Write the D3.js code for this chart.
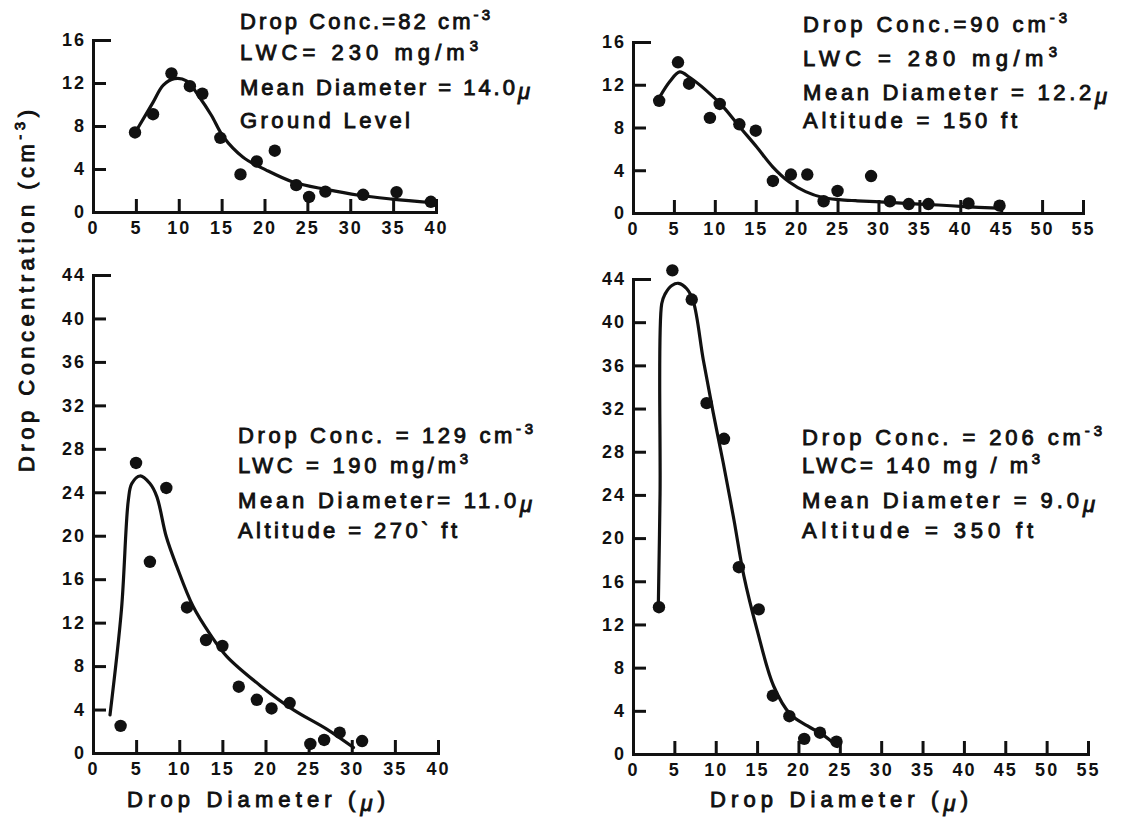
<!DOCTYPE html>
<html>
<head>
<meta charset="utf-8">
<script src="https://cdn.jsdelivr.net/npm/d3@7"></script>
<style>
  body { margin: 0; background: #fff; }
  svg { display: block; }
  text { font-family: "Liberation Sans", Arial, sans-serif; fill: #111; }
</style>
</head>
<body>
<svg id="chart" width="1142" height="823"></svg>
<script>
// ---- data ----
// panel A: ground level
const aDotX = [4.9, 7.0, 9.15, 11.3, 12.75, 14.85, 17.2, 19.1, 21.2, 23.7, 25.2, 27.1, 31.5, 35.4, 39.4];
const aDotY = [7.4, 9.1, 12.9, 11.7, 11.0, 6.9, 3.5, 4.7, 5.7, 2.5, 1.4, 1.9, 1.6, 1.85, 0.95];
const aFitX = [5.08, 7.0, 8.2, 9.5, 10.9, 12.4, 13.8, 15.2, 17.5, 20.2, 23.3, 27.2, 31.0, 34.9, 39.6];
const aFitY = [7.6, 10.2, 11.8, 12.4, 12.2, 10.7, 9.0, 7.0, 5.1, 3.9, 2.8, 2.1, 1.56, 1.2, 0.86];

// panel B: 150 ft
const bDotX = [3.2, 5.5, 6.85, 9.4, 10.6, 13.0, 15.0, 17.1, 19.3, 21.3, 23.3, 25.0, 29.1, 31.4, 33.7, 36.1, 41.0, 44.8];
const bDotY = [10.5, 14.1, 12.1, 8.9, 10.2, 8.3, 7.7, 3.0, 3.6, 3.6, 1.1, 2.06, 3.46, 1.1, 0.84, 0.84, 0.9, 0.69];
const bFitX = [3.3, 4.5, 5.7, 6.9, 8.9, 11.0, 13.0, 15.1, 17.1, 19.1, 21.1, 23.2, 25.2, 27.2, 29.6, 33.3, 37.3, 40.5, 44.6];
const bFitY = [10.9, 12.3, 13.2, 12.7, 11.5, 9.96, 8.1, 6.2, 4.3, 2.9, 2.0, 1.45, 1.25, 1.15, 1.06, 0.9, 0.75, 0.6, 0.45];

// panel C: 270 ft
const cDotX = [3.2, 4.99, 6.6, 8.5, 10.9, 13.1, 15.0, 16.9, 19.0, 20.7, 22.8, 25.2, 26.8, 28.6, 31.2];
const cDotY = [2.5, 26.7, 17.6, 24.4, 13.4, 10.4, 9.85, 6.1, 4.9, 4.1, 4.6, 0.83, 1.2, 1.87, 1.1];
const cFitX = [1.97, 3.3, 4.1, 4.5, 5.45, 6.6, 7.4, 8.5, 9.7, 11.6, 13.6, 15.5, 19.4, 23.2, 27.1, 30.2];
const cFitY = [3.5, 13.2, 23.3, 24.8, 25.5, 24.8, 23.6, 19.9, 17.2, 13.5, 10.9, 8.9, 6.2, 4.0, 2.2, 0.5];

// panel D: 350 ft
const dDotX = [3.14, 4.76, 7.1, 8.9, 11.0, 12.8, 15.2, 16.9, 18.9, 20.7, 22.6, 24.6];
const dDotY = [13.6, 44.8, 42.1, 32.5, 29.2, 17.3, 13.4, 5.4, 3.5, 1.4, 1.97, 1.14];
const dFitX = [3.06, 3.27, 3.47, 3.87, 4.7, 5.5, 6.5, 7.3, 8.5, 9.7, 10.9, 12.2, 13.4, 15.0, 17.0, 19.0, 21.1, 23.1, 24.7];
const dFitY = [13.7, 24.1, 41.7, 42.6, 43.4, 43.6, 43.1, 41.9, 36.5, 31.6, 27.0, 21.7, 16.5, 11.5, 6.3, 3.7, 2.6, 1.7, 0.7];

const aNotes = ["Drop Conc.=82 cm|-3", "LWC= 230 mg/m|3", "Mean Diameter = 14.0~μ", "Ground Level"];
const bNotes = ["Drop Conc.=90 cm|-3", "LWC = 280 mg/m|3", "Mean Diameter = 12.2~μ", "Altitude = 150 ft"];
const cNotes = ["Drop Conc. = 129 cm|-3", "LWC = 190 mg/m|3", "Mean Diameter= 11.0~μ", "Altitude = 270` ft"];
const dNotes = ["Drop Conc. = 206 cm|-3", "LWC= 140 mg / m|3", "Mean Diameter = 9.0~μ", "Altitude = 350 ft"];

const yTitle = "Drop Concentration (cm";
const xTitle = "Drop Diameter (";

// ---- layout ----
const panels = [
  { dx: aDotX, dy: aDotY, fx: aFitX, fy: aFitY, xMax: 40, yMax: 16,
    left: 93, right: 436, bottom: 212, top: 40, notes: aNotes, nx: 240,
    ny: [29, 60, 95, 128], nw: [250, 238, 290, 170] },
  { dx: bDotX, dy: bDotY, fx: bFitX, fy: bFitY, xMax: 55, yMax: 16,
    left: 633, right: 1083, bottom: 213, top: 42, notes: bNotes, nx: 803,
    ny: [32, 66, 100, 128], nw: [264, 254, 304, 214] },
  { dx: cDotX, dy: cDotY, fx: cFitX, fy: cFitY, xMax: 40, yMax: 44,
    left: 93, right: 438, bottom: 753, top: 275, notes: cNotes, nx: 238,
    ny: [443, 473, 508, 538], nw: [295, 230, 294, 219] },
  { dx: dDotX, dy: dDotY, fx: dFitX, fy: dFitY, xMax: 55, yMax: 44,
    left: 633, right: 1088, bottom: 754, top: 279, notes: dNotes, nx: 802,
    ny: [445, 473, 508, 538], nw: [300, 238, 293, 231] }
];

const svg = d3.select("#chart");

panels.forEach(function(p) {
  var x = d3.scaleLinear().domain([0, p.xMax]).range([p.left, p.right]);
  var y = d3.scaleLinear().domain([0, p.yMax]).range([p.bottom, p.top]);

  var xAxis = d3.axisBottom(x)
    .tickValues(d3.range(0, p.xMax + 1, 5))
    .tickSizeInner(-13).tickSizeOuter(0).tickPadding(9);
  var yAxis = d3.axisLeft(y)
    .tickValues(d3.range(0, p.yMax + 1, 4))
    .tickSizeInner(-13).tickSizeOuter(0).tickPadding(7);

  var gx = svg.append("g").attr("transform", "translate(0," + p.bottom + ")").call(xAxis);
  var gy = svg.append("g").attr("transform", "translate(" + p.left + ",0)").call(yAxis);

  [gx, gy].forEach(function(g) {
    g.select(".domain").attr("stroke", "#111").attr("stroke-width", 3).attr("stroke-linecap", "square");
    g.selectAll(".tick line").attr("stroke", "#111").attr("stroke-width", 3);
    g.selectAll(".tick text")
      .style("font-family", "'Liberation Sans', Arial, sans-serif")
      .style("font-weight", "bold")
      .style("font-size", "18px")
      .style("letter-spacing", "2px")
      .attr("fill", "#111");
  });
  // no tick on the zero marks, longer cap tick at top
  gx.selectAll(".tick").filter(function(d) { return d === 0; }).select("line").remove();
  gy.selectAll(".tick").filter(function(d) { return d === 0; }).select("line").remove();
  gy.selectAll(".tick").filter(function(d) { return d === p.yMax; }).select("line").attr("x2", 18);

  var line = d3.line()
    .x(function(d) { return x(d[0]); })
    .y(function(d) { return y(d[1]); })
    .curve(d3.curveCatmullRom.alpha(0.5));

  svg.append("path")
    .datum(d3.zip(p.fx, p.fy))
    .attr("d", line)
    .attr("fill", "none")
    .attr("stroke", "#111")
    .attr("stroke-width", 3.2)
    .attr("stroke-linecap", "round");

  svg.append("g").selectAll("circle")
    .data(d3.zip(p.dx, p.dy))
    .enter()
    .append("circle")
    .attr("cx", function(d) { return x(d[0]); })
    .attr("cy", function(d) { return y(d[1]); })
    .attr("r", 6.2)
    .attr("fill", "#111");

  // annotation block; "|" marks a superscript, "~" a lowered mu
  p.notes.forEach(function(s, i) {
    var t = svg.append("text")
      .attr("x", p.nx).attr("y", p.ny[i])
      .attr("textLength", p.nw[i])
      .attr("lengthAdjust", "spacing")
      .style("font-size", "22px")
      .style("stroke", "#111").style("stroke-width", 0.9);
    if (s.indexOf("|") >= 0) {
      var parts = s.split("|");
      t.append("tspan").text(parts[0]);
      t.append("tspan").attr("dy", -9).style("font-size", "15px").text(parts[1]);
    } else if (s.indexOf("~") >= 0) {
      var parts2 = s.split("~");
      t.append("tspan").text(parts2[0]);
      t.append("tspan").attr("dy", 4).style("font-style", "italic").text(parts2[1]);
    } else {
      t.text(s);
    }
  });
});

// shared y title
var yt = svg.append("text")
  .attr("transform", "translate(34,291) rotate(-90)")
  .attr("text-anchor", "middle")
  .attr("textLength", 362)
  .attr("lengthAdjust", "spacing")
  .style("font-size", "22px")
  .style("stroke", "#111").style("stroke-width", 0.9);
yt.append("tspan").text(yTitle);
yt.append("tspan").attr("dy", -9).style("font-size", "15px").text("-3");
yt.append("tspan").attr("dy", 9).text(")");

// x titles under the lower panels
[256, 839].forEach(function(cx) {
  var t = svg.append("text")
    .attr("x", cx).attr("y", 807)
    .attr("text-anchor", "middle")
    .attr("textLength", 258)
    .attr("lengthAdjust", "spacing")
    .style("font-size", "22px")
    .style("stroke", "#111").style("stroke-width", 0.9);
  t.append("tspan").text(xTitle);
  t.append("tspan").attr("dy", 4).style("font-style", "italic").text("μ");
  t.append("tspan").attr("dy", -4).text(")");
});
</script>
</body>
</html>
